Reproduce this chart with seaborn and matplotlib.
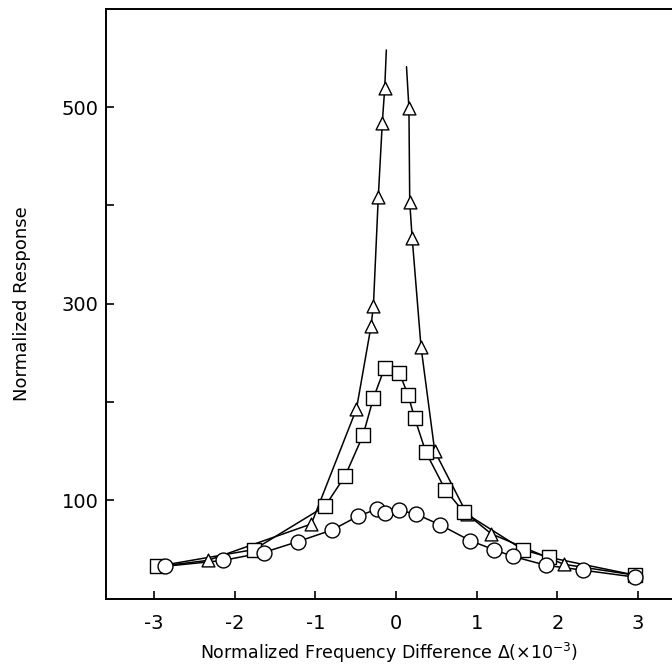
import matplotlib
matplotlib.use("Agg")
import matplotlib.pyplot as plt
import seaborn as sns
import pandas as pd

# ---- data ----
tri_left_x = [-2.33, -1.05, -0.49, -0.31, -0.28, -0.22, -0.17, -0.14]
tri_left_y = [39, 76, 193, 277, 298, 408, 484, 519]
tri_right_x = [0.16, 0.17, 0.20, 0.31, 0.48, 0.88, 1.18, 2.08]
tri_right_y = [499, 403, 367, 256, 150, 86, 66, 35]
# ends of the triangle curve (line only)
tri_curve_left_start = (-2.93, 33)
tri_curve_left_top = (-0.12, 558)
tri_curve_right_top = (0.13, 541)
tri_curve_right_end = (2.96, 24)

sq_x = [-2.96, -1.76, -0.88, -0.63, -0.41, -0.28, -0.14, 0.04, 0.15, 0.23, 0.37, 0.61, 0.84, 1.57, 1.90, 2.96]
sq_y = [33, 50, 94, 125, 166, 204, 235, 230, 207, 184, 149, 111, 88, 50, 42, 24]

ci_x = [-2.86, -2.14, -1.64, -1.22, -0.79, -0.47, -0.24, -0.14, 0.04, 0.25, 0.55, 0.92, 1.21, 1.45, 1.86, 2.32, 2.96]
ci_y = [33, 39, 47, 58, 70, 84, 91, 87, 90, 86, 75, 59, 50, 43, 34, 29, 22]

y_ticks = [100, 200, 300, 400, 500]
y_ticklabels = ["100", "", "300", "", "500"]
x_ticks = [-3, -2, -1, 0, 1, 2, 3]
x_ticklabels = ["-3", "-2", "-1", "0", "1", "2", "3"]

sns.set_theme(style="ticks")
plt.rcParams['font.family'] = ['DejaVu Sans']

fig = plt.figure(figsize=(6.72, 6.66), dpi=100)
ax = fig.add_axes([0.157, 0.101, 0.843, 0.886])

lw = 1.1
# curves
tl = pd.DataFrame({"x": [tri_curve_left_start[0]] + tri_left_x + [tri_curve_left_top[0]],
                   "y": [tri_curve_left_start[1]] + tri_left_y + [tri_curve_left_top[1]]})
tr = pd.DataFrame({"x": [tri_curve_right_top[0]] + tri_right_x + [tri_curve_right_end[0]],
                   "y": [tri_curve_right_top[1]] + tri_right_y + [tri_curve_right_end[1]]})
sq = pd.DataFrame({"x": sq_x, "y": sq_y})
ci = pd.DataFrame({"x": ci_x, "y": ci_y})
for d in (tl, tr, sq, ci):
    sns.lineplot(data=d, x="x", y="y", sort=False, estimator=None, color="black",
                 linewidth=lw, ax=ax, zorder=2)

# markers
tri = pd.DataFrame({"x": tri_left_x + tri_right_x, "y": tri_left_y + tri_right_y})
sns.scatterplot(data=tri, x="x", y="y", marker="^", s=85, facecolor="white",
                edgecolor="black", linewidth=1.0, ax=ax, zorder=3)
sns.scatterplot(data=sq, x="x", y="y", marker="s", s=95, facecolor="white",
                edgecolor="black", linewidth=1.0, ax=ax, zorder=4)
sns.scatterplot(data=ci, x="x", y="y", marker="o", s=115, facecolor="white",
                edgecolor="black", linewidth=1.0, ax=ax, zorder=5)

ax.set_xlim(-3.6, 3.42)
ax.set_ylim(0, 600)
ax.set_xticks(x_ticks)
ax.set_xticklabels(x_ticklabels)
ax.set_yticks(y_ticks)
ax.set_yticklabels(y_ticklabels)
ax.tick_params(direction="in", length=6, width=1.2, labelsize=14, colors="black", pad=5)
ax.tick_params(axis="x", pad=11)
for s in ("left", "bottom", "top"):
    ax.spines[s].set_linewidth(1.4)
    ax.spines[s].set_color("black")
ax.spines["right"].set_visible(False)

ax.set_xlabel(r"Normalized Frequency Difference $\Delta$(×10$^{-3}$)", fontsize=12.5,
              labelpad=6, color="black")
ax.set_ylabel("Normalized Response", fontsize=13, labelpad=22, color="black")

fig.savefig("out.png", dpi=100)
